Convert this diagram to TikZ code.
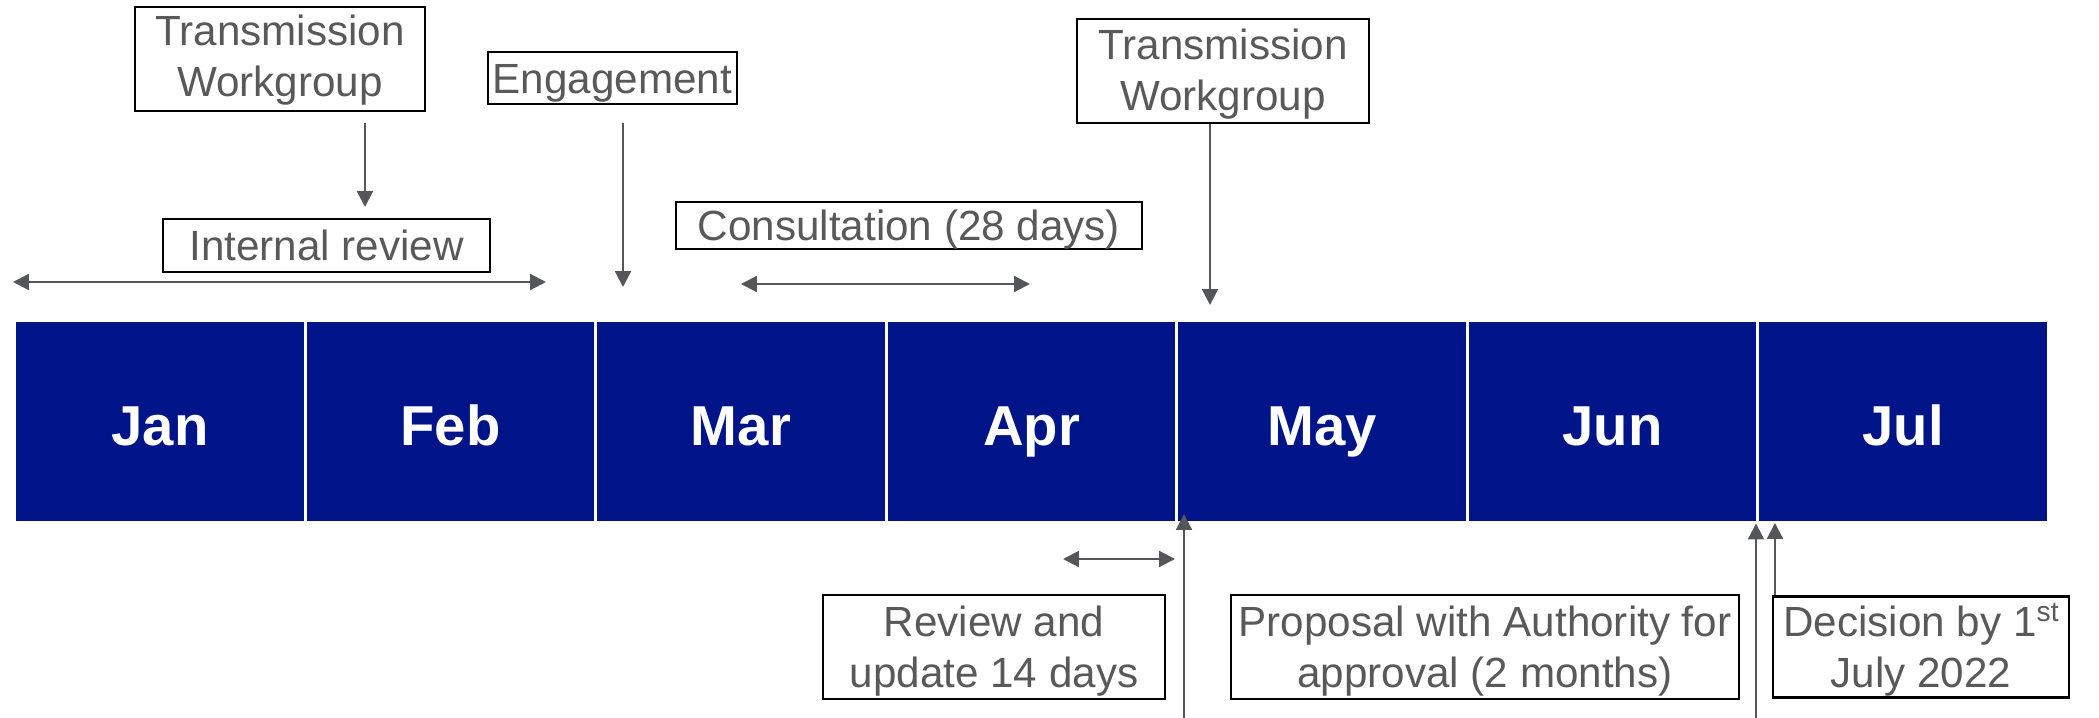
\documentclass[tikz,border=0pt]{standalone}
\usepackage{fontspec}
\setmainfont{Liberation Sans}
\usepackage{xcolor}
\usepackage{tikz}
\usetikzlibrary{shapes,arrows.meta,positioning}
\definecolor{monthblue}{HTML}{001489}
\definecolor{txtgrey}{HTML}{595959}
\definecolor{arrgrey}{HTML}{55565A}

\begin{document}
\begin{tikzpicture}[x=0.01cm, y=-0.01cm,
        month/.style={rectangle, fill=monthblue, draw=white, line width=0.8pt, minimum width=2.905cm, minimum height=2.01cm, inner sep=0pt, text height=13.4pt, text depth=0pt, text=white, font=\fontsize{16}{19}\selectfont\bfseries},
        box/.style={rectangle, draw=black, line width=0.6pt, inner sep=0pt, align=center, text height=#1, text depth=0pt, text=txtgrey, font=\fontsize{12}{14.5}\selectfont},
        box/.default=8.6pt,
        arrow/.style={-{Triangle[length=4.5pt,width=4.5pt]}, line width=0.6pt, draw=arrgrey},
        dbl/.style={{Triangle[length=4.5pt,width=4.5pt]}-{Triangle[length=4.5pt,width=4.5pt]}, line width=0.6pt, draw=arrgrey}
    ]
        \useasboundingbox (0,0) rectangle (2099,718);

        % months
        \foreach \m [count=\i from 0] in {Jan,Feb,Mar,Apr,May,Jun,Jul}
            \node[month] (\m) at ({160+\i*290.5},421.5) {\m};

        % boxes above the bar
        \node[box=21.6pt, minimum width=2.9cm, minimum height=1.04cm] (wg1) at (280,59) {Transmission\\Workgroup};
        \node[box, minimum width=2.49cm, minimum height=0.52cm] (eng) at (612.5,78) {Engagement};
        \node[box, minimum width=3.27cm, minimum height=0.53cm] (irev) at (326.5,245.5) {Internal review};
        \node[box, minimum width=4.66cm, minimum height=0.47cm] (cons) at (909,225.5) {Consultation (28 days)};
        \node[box=22.2pt, minimum width=2.92cm, minimum height=1.04cm] (wg2) at (1223,71) {Transmission\\Workgroup};

        % boxes below the bar
        \node[box=23.3pt, minimum width=3.41cm, minimum height=1.04cm] (rev) at (994,647) {Review and\\update 14 days};
        \node[box=23.3pt, minimum width=5.07cm, minimum height=1.04cm] (prop) at (1485,647) {Proposal with Authority for\\approval (2 months)};
        \node[box=23.3pt, minimum width=2.95cm, minimum height=1.01cm] (dec) at (1921,647) {Decision by 1{\fontsize{8}{8}\selectfont\raisebox{4.5pt}{st}}\\July 2022};

        \coordinate (wgA) at (365,123);
        \coordinate (wgB) at (365,207);
        \coordinate (engA) at (623,123);
        \coordinate (engB) at (623,287);
        \coordinate (wg2B) at (1210,305);
        \coordinate (irL) at (13,282);
        \coordinate (irR) at (546,282);
        \coordinate (coL) at (741,284);
        \coordinate (coR) at (1030,284);
        \coordinate (ruL) at (1063,559);
        \coordinate (ruR) at (1175,559);
        \coordinate (upA) at (1184,718);
        \coordinate (upAt) at (1184,514);
        \coordinate (upB) at (1756,718);
        \coordinate (upC) at (1775,523);

        \draw[arrow] (wgA) -- (wgB);
        \draw[arrow] (engA) -- (engB);
        \draw[arrow] (wg2B |- wg2.south) -- (wg2B);
        \draw[dbl] (irL) -- (irR);
        \draw[dbl] (coL) -- (coR);
        \draw[dbl] (ruL) -- (ruR);
        \draw[arrow] (upA) -- (upAt);
        \draw[arrow] (upB) -- (upB |- Jul.south);
        \draw[arrow] (upC |- dec.north) -- (upC);
    \end{tikzpicture}
\end{document}
